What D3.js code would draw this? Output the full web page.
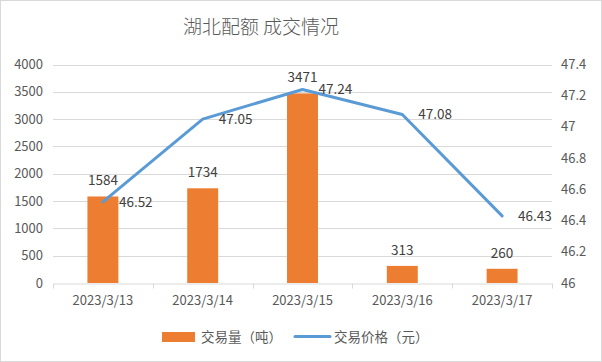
<!DOCTYPE html>
<html>
<head>
<meta charset="utf-8">
<script src="https://cdn.jsdelivr.net/npm/d3@7"></script>
<style>
  body { margin: 0; background: #fff; }
  text { font-family: "Noto Sans CJK SC", "Liberation Sans", sans-serif; }
</style>
</head>
<body>
<div class="chartContainer"></div>
<script>
// data
const dates = ['2023/3/13', '2023/3/14', '2023/3/15', '2023/3/16', '2023/3/17'];
const volumes = [1584, 1734, 3471, 313, 260];
const prices = [46.52, 47.05, 47.24, 47.08, 46.43];
const leftTicks = [0, 500, 1000, 1500, 2000, 2500, 3000, 3500, 4000];
const rightTicks = [46, 46.2, 46.4, 46.6, 46.8, 47, 47.2, 47.4];

const width = 602, height = 362;
const margins = { top: 64.5, bottom: 79, left: 53, right: 50 };
const chart_width = width - margins.left - margins.right;

const svg = d3.select('.chartContainer')
  .append('svg')
  .attr('width', width)
  .attr('height', height);

// outer frame
svg.append('rect')
  .attr('x', 0.5).attr('y', 0.5)
  .attr('width', width - 1).attr('height', height - 1)
  .attr('fill', '#fff')
  .attr('stroke', '#d9d9d9');

svg.append('text')
  .text('湖北配额 成交情况')
  .attr('x', 261).attr('y', 34)
  .attr('text-anchor', 'middle')
  .style('font-size', '19px')
  .style('font-weight', 300)
  .style('fill', '#595959');

const xScale = d3.scaleBand()
  .domain(dates)
  .range([margins.left, margins.left + chart_width])
  .paddingInner(0.69).paddingOuter(0.345);
const xBand = d3.scaleBand()
  .domain(dates)
  .range([margins.left, margins.left + chart_width]);
const yLeft = d3.scaleLinear().domain([0, 4000]).range([height - margins.bottom, margins.top]);
const yRight = d3.scaleLinear().domain([46, 47.4]).range([height - margins.bottom, margins.top]);

// gridlines
svg.append('g')
  .selectAll('line')
  .data(leftTicks.slice(1))
  .enter()
  .append('line')
  .attr('x1', margins.left).attr('x2', margins.left + chart_width)
  .attr('y1', d => Math.round(yLeft(d)) + 0.5)
  .attr('y2', d => Math.round(yLeft(d)) + 0.5)
  .attr('stroke', '#d9d9d9');

// left axis labels
svg.append('g')
  .selectAll('text')
  .data(leftTicks)
  .enter()
  .append('text')
  .text(d => d)
  .attr('x', 43)
  .attr('y', d => yLeft(d) + 4.5)
  .attr('text-anchor', 'end')
  .style('font-size', '13px')
  .style('fill', '#595959');

// right axis labels
svg.append('g')
  .selectAll('text')
  .data(rightTicks)
  .enter()
  .append('text')
  .text(d => d)
  .attr('x', 561)
  .attr('y', d => yRight(d) + 4.5)
  .style('font-size', '13px')
  .style('fill', '#595959');

// bars
const chart = svg.append('g');
chart.selectAll('rect')
  .data(volumes)
  .enter()
  .append('rect')
  .attr('x', (d, i) => xScale(dates[i]))
  .attr('y', d => yLeft(d))
  .attr('width', xScale.bandwidth())
  .attr('height', d => yLeft(0) - yLeft(d))
  .style('fill', '#ed7d31');

// x axis
const xAxis = svg.append('g')
  .attr('transform', `translate(0,${Math.round(yLeft(0)) + 0.5})`)
  .call(d3.axisBottom(xBand).tickSize(0).tickPadding(12));
xAxis.select('.domain').attr('stroke', '#d9d9d9');
xAxis.selectAll('text').style('font-size', '13px').style('fill', '#595959')
  .style('font-family', '"Noto Sans CJK SC", sans-serif');
xAxis.selectAll('.bnd')
  .data(d3.range(dates.length + 1))
  .enter()
  .append('line')
  .attr('class', 'bnd')
  .attr('x1', i => Math.round(margins.left + i * xBand.step()) + 0.5)
  .attr('x2', i => Math.round(margins.left + i * xBand.step()) + 0.5)
  .attr('y1', 0).attr('y2', 5)
  .attr('stroke', '#d9d9d9');

// price line
const line = d3.line()
  .x((d, i) => xBand(dates[i]) + xBand.bandwidth() / 2)
  .y(d => yRight(d));
svg.append('path')
  .datum(prices)
  .attr('d', line)
  .attr('fill', 'none')
  .attr('stroke', '#5b9bd5')
  .attr('stroke-width', 3)
  .attr('stroke-linejoin', 'round')
  .attr('stroke-linecap', 'round');

// bar labels
chart.selectAll('.label')
  .data(volumes)
  .enter()
  .append('text')
  .attr('class', 'label')
  .text(d => d)
  .attr('x', (d, i) => xScale(dates[i]) + xScale.bandwidth() / 2)
  .attr('y', d => yLeft(d) - 11)
  .attr('text-anchor', 'middle')
  .style('font-size', '13.5px')
  .style('fill', '#404040');

// price labels
svg.selectAll('.plabel')
  .data(prices)
  .enter()
  .append('text')
  .attr('class', 'plabel')
  .text(d => d.toFixed(2))
  .attr('x', (d, i) => xBand(dates[i]) + xBand.bandwidth() / 2 + 16)
  .attr('y', d => yRight(d) + 5)
  .style('font-size', '13.5px')
  .style('fill', '#404040');

// legend
const legend = svg.append('g');
legend.append('rect')
  .attr('x', 162).attr('y', 332)
  .attr('width', 33).attr('height', 10)
  .style('fill', '#ed7d31');
legend.append('text')
  .text('交易量（吨）')
  .attr('x', 201).attr('y', 342)
  .style('font-size', '13.5px')
  .style('fill', '#595959');
legend.append('line')
  .attr('x1', 295).attr('x2', 330)
  .attr('y1', 336.5).attr('y2', 336.5)
  .attr('stroke', '#5b9bd5')
  .attr('stroke-width', 3)
  .attr('stroke-linecap', 'round');
legend.append('text')
  .text('交易价格（元）')
  .attr('x', 334).attr('y', 342)
  .style('font-size', '13.5px')
  .style('fill', '#595959');
</script>
</body>
</html>
